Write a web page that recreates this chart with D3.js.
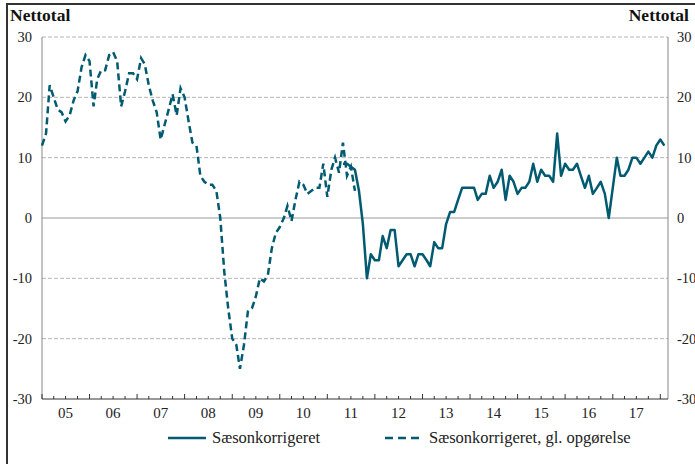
<!DOCTYPE html>
<html>
<head>
<meta charset="utf-8">
<script src="https://cdn.jsdelivr.net/npm/d3@7"></script>
<style>
  body { margin: 0; background: #fff; }
  svg { display: block; font-family: "Liberation Serif", "DejaVu Serif", serif; }
</style>
</head>
<body>
<svg id="chart" width="695" height="464"></svg>
<script>
// series labels
const seriesNames = ["Sæsonkorrigeret", "Sæsonkorrigeret, gl. opgørelse"];
const yTicks = [-30, -20, -10, 0, 10, 20, 30];
const yearLabels = ["05", "06", "07", "08", "09", "10", "11", "12", "13", "14", "15", "16", "17"];

// old method, monthly from Jan 2005
const oldStart = [2005, 0];
const oldValues = [
  12, 14, 22, 20, 18, 17.5, 16, 17, 19.5, 21, 25, 27,
  26, 18.5, 23, 24.5, 24.5, 27, 27.5, 26, 18.5, 21, 24, 24,
  23, 26.5, 25.5, 22, 19.5, 17.5, 13, 15.5, 18, 20.5, 17, 21.5,
  20, 16, 12.5, 12, 7, 6, 5.5, 5.5, 4.5, 0, -9, -15,
  -20, -21, -25, -21, -15.5, -15, -13, -10, -10.5, -9.5, -5, -2.5,
  -1.5, 0, 2, -0.5, 3, 6, 5.5, 4, 4.5, 5, 5, 9,
  3.5, 8, 10, 7.5, 12.5, 7, 8.5, 4.5
];

// new method, monthly from May 2011
const newStart = [2011, 4];
const newValues = [
  9, 9, 8.5, 8, 4.5, -1, -10, -6,
  -7, -7, -3, -5, -2, -2, -8, -7, -6, -6, -8, -6,
  -6, -7, -8, -4, -5, -5, -1, 1, 1, 3, 5, 5,
  5, 5, 3, 4, 4, 7, 5, 6, 8, 3, 7, 6,
  4, 5, 5, 6, 9, 6, 8, 7, 7, 6, 14, 7,
  9, 8, 8, 9, 7, 5, 7, 4, 5, 6, 4, 0,
  5, 10, 7, 7, 8, 10, 10, 9, 10, 11, 10, 12,
  13, 12
];

const W = 695, H = 464;
const margin = { top: 37, right: 27, bottom: 65, left: 42 };
const iw = W - margin.left - margin.right;
const ih = H - margin.top - margin.bottom;
const lineColor = "#005a70";

function toPoints(start, values) {
  return values.map((v, i) => ({ date: new Date(start[0], start[1] + i, 1), value: v }));
}
const oldData = toPoints(oldStart, oldValues);
const newData = toPoints(newStart, newValues);

const svg = d3.select("#chart");

// frame
svg.append("line").attr("x1", 7).attr("x2", W).attr("y1", 4).attr("y2", 4)
  .attr("stroke", "#333").attr("stroke-width", 2);
svg.append("line").attr("x1", 7).attr("x2", 7).attr("y1", 3).attr("y2", H)
  .attr("stroke", "#333").attr("stroke-width", 2);

const g = svg.append("g").attr("transform", `translate(${margin.left},${margin.top})`);

const x = d3.scaleTime()
  .domain([new Date(2005, 0, 1), new Date(2018, 2, 1)])
  .range([0, iw]);
const y = d3.scaleLinear().domain([-30, 30]).range([ih, 0]);

// grid
g.selectAll(".grid").data(yTicks.filter(t => t !== -30)).join("line")
  .attr("x1", 0).attr("x2", iw)
  .attr("y1", d => y(d)).attr("y2", d => y(d))
  .attr("stroke", d => d === 0 ? "#999" : "#b5b5b5")
  .attr("stroke-width", 1)
  .attr("stroke-dasharray", d => d === 0 ? null : "4,2");

// side axes
g.append("line").attr("x1", 0).attr("x2", 0).attr("y1", 0).attr("y2", ih).attr("stroke", "#888");
g.append("line").attr("x1", iw).attr("x2", iw).attr("y1", 0).attr("y2", ih).attr("stroke", "#888");

// y labels both sides (plain hyphen for negatives)
const fmt = d => String(d);
const yl = d3.axisLeft(y).tickValues(yTicks).tickFormat(fmt).tickSize(0).tickPadding(10);
const yr = d3.axisRight(y).tickValues(yTicks).tickFormat(fmt).tickSize(0).tickPadding(9);
g.append("g").call(yl).call(a => a.select(".domain").remove())
  .selectAll("text").attr("font-size", 14.5).attr("font-family", "Liberation Serif").attr("fill", "#222");
g.append("g").attr("transform", `translate(${iw},0)`).call(yr).call(a => a.select(".domain").remove())
  .selectAll("text").attr("font-size", 14.5).attr("font-family", "Liberation Serif").attr("fill", "#222");

// x axis: quarterly minor ticks, yearly major ticks
const xa = g.append("g").attr("transform", `translate(0,${ih})`);
xa.append("line").attr("x1", 0).attr("x2", iw).attr("stroke", "#333").attr("stroke-width", 1);
const quarters = d3.timeMonth.every(3).range(new Date(2005, 0, 1), new Date(2018, 2, 2));
xa.selectAll(".tk").data(quarters).join("line")
  .attr("x1", d => x(d)).attr("x2", d => x(d))
  .attr("y1", 0).attr("y2", d => d.getMonth() === 0 ? -5 : -3)
  .attr("stroke", "#333");
xa.selectAll(".yl").data(yearLabels).join("text")
  .attr("x", (d, i) => x(new Date(2005 + i, 6, 1)))
  .attr("y", 19)
  .attr("text-anchor", "middle")
  .attr("font-size", 15)
  .attr("fill", "#222")
  .text(d => d);

// lines
const line = d3.line().x(d => x(d.date)).y(d => y(d.value));
g.append("path").datum(oldData).attr("d", line)
  .attr("fill", "none").attr("stroke", lineColor).attr("stroke-width", 2.5)
  .attr("stroke-dasharray", "7,4");
g.append("path").datum(newData).attr("d", line)
  .attr("fill", "none").attr("stroke", lineColor).attr("stroke-width", 2.5)
  .attr("stroke-linejoin", "round");

// unit titles
svg.append("text").attr("x", 10).attr("y", 21).attr("font-size", 17.5).attr("font-weight", "bold")
  .attr("fill", "#111").text("Nettotal");
svg.append("text").attr("x", 689).attr("y", 21).attr("font-size", 17.5).attr("font-weight", "bold")
  .attr("text-anchor", "end").attr("fill", "#111").text("Nettotal");

// legend
const legend = svg.append("g").attr("transform", "translate(0,438)");
const items = [
  { name: seriesNames[0], x: 168, dash: null },
  { name: seriesNames[1], x: 385, dash: "8,5" }
];
items.forEach(it => {
  legend.append("line").attr("x1", it.x).attr("x2", it.x + 38).attr("y1", 0).attr("y2", 0)
    .attr("stroke", lineColor).attr("stroke-width", 2.5).attr("stroke-dasharray", it.dash);
  legend.append("text").attr("x", it.x + 44).attr("y", 5).attr("font-size", 16.5)
    .attr("fill", "#222").text(it.name);
});
</script>
</body>
</html>
